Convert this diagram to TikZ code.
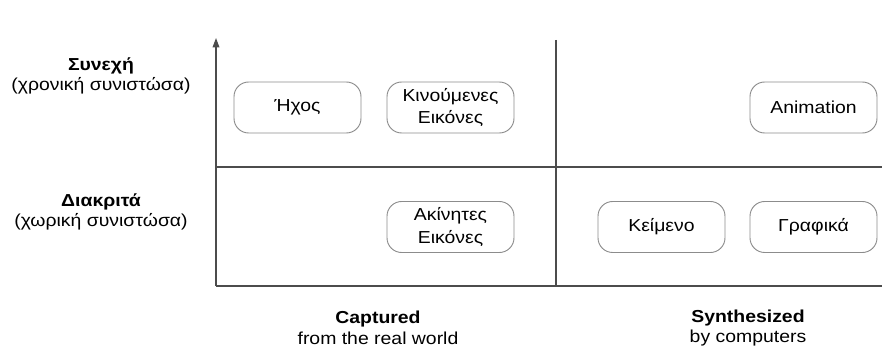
\documentclass[tikz,border=0pt]{standalone}
\usepackage{fontspec}
\setmainfont{Liberation Sans}[FakeStretch=1.12]
\usetikzlibrary{arrows.meta}
\begin{document}
\begin{tikzpicture}[x=0.75pt,y=-0.75pt,
  axisline/.style={draw=black!70,line width=0.9pt},
  mediabox/.style={draw=black!45,line width=0.7pt,rounded corners=11pt,minimum width=127*0.75pt,minimum height=51*0.75pt,align=center,font=\fontsize{13}{17}\selectfont,inner sep=0pt},
  lbl/.style={align=center,font=\fontsize{13}{15.5}\selectfont,inner sep=0pt}]
\useasboundingbox (0,0) rectangle (882,349);
% axes and grid
\coordinate (o) at (216,286);
\coordinate (top) at (216,38);
\coordinate (r) at (882,286);
\coordinate (ml) at (216,167);
\coordinate (mr) at (882,167);
\coordinate (vt) at (556,40);
\coordinate (vb) at (556,286);
\draw[axisline,-{Triangle[length=7pt,width=5pt]}] (o) -- (top);
\draw[axisline] (o) -- (r);
\draw[axisline] (ml) -- (mr);
\draw[axisline] (vt) -- (vb);
% boxes
\node[mediabox] (ixos) at (297.5,107.5) {Ήχος};
\node[mediabox] (kin) at (450.5,107.5) {Κινούμενες\\Εικόνες};
\node[mediabox] (akin) at (450.5,227) {Ακίνητες\\Εικόνες};
\node[mediabox] (anim) at (813.5,107.5) {Animation};
\node[mediabox] (keim) at (661.5,227) {Κείμενο};
\node[mediabox] (graf) at (813.5,227) {Γραφικά};
% side labels
\node[lbl] (syn) at (101,76) {\textbf{Συνεχή}\\(χρονική συνιστώσα)};
\node[lbl] (diak) at (101,212) {\textbf{Διακριτά}\\(χωρική συνιστώσα)};
\node[lbl] (capt) at (378,328) {\textbf{Captured}\\from the real world};
\node[lbl] (synth) at (748,328) {\textbf{Synthesized}\\by computers};
\end{tikzpicture}
\end{document}
